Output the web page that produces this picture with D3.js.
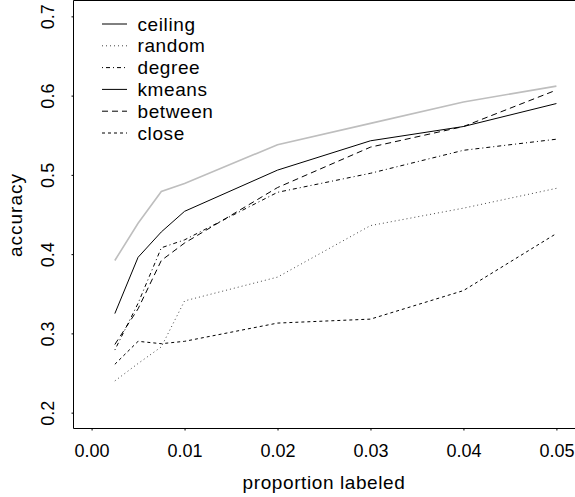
<!DOCTYPE html>
<html><head><meta charset="utf-8">
<script src="https://cdn.jsdelivr.net/npm/d3@7"></script>
<style>html,body{margin:0;padding:0;background:#fff;}svg{display:block;}</style>
</head><body>
<svg id="c" width="575" height="497"></svg>
<script>
const proportion = [0.0025, 0.005, 0.0075, 0.01, 0.02, 0.03, 0.04, 0.05];
const ceiling = [0.392, 0.439, 0.479, 0.489, 0.538, 0.565, 0.592, 0.612];
const random  = [0.240, 0.262, 0.283, 0.341, 0.371, 0.436, 0.458, 0.483];
const degree  = [0.279, 0.338, 0.408, 0.418, 0.478, 0.502, 0.531, 0.545];
const kmeans  = [0.325, 0.396, 0.428, 0.454, 0.506, 0.543, 0.561, 0.590];
const between = [0.286, 0.331, 0.392, 0.414, 0.484, 0.535, 0.561, 0.607];
const closeness = [0.261, 0.290, 0.287, 0.290, 0.313, 0.318, 0.354, 0.426];
const seriesNames = ["ceiling", "random", "degree", "kmeans", "between", "close"];
const xTicks = [0.00, 0.01, 0.02, 0.03, 0.04, 0.05];
const yTicks = [0.2, 0.3, 0.4, 0.5, 0.6, 0.7];

const seriesData = {ceiling, random, degree, kmeans, between, close: closeness};
const styles = {
  ceiling: {stroke: "#bebebe", dash: null, legendStroke: "#000"},
  random:  {stroke: "#444", dash: "1,3", legendStroke: "#444"},
  degree:  {stroke: "#000", dash: "1,3,4,3", legendStroke: "#000"},
  kmeans:  {stroke: "#000", dash: null, legendStroke: "#000"},
  between: {stroke: "#000", dash: "6,4", legendStroke: "#000"},
  close:   {stroke: "#000", dash: "3,3", legendStroke: "#000"}
};

const svg = d3.select("#c");
const pLeft = 73, pRight = 575, pTop = 0.5, pBottom = 428.5;
const x = d3.scaleLinear().domain([-0.002, 0.052]).range([pLeft, pRight]);
const y = d3.scaleLinear().domain([0.18, 0.72]).range([pBottom, pTop]);
const font = "'Liberation Sans', Arial, Helvetica, sans-serif";
const numSize = 18, wordSize = 19, wordSpacing = 0.6;

// box (left, top, bottom)
svg.append("path")
  .attr("d", `M${pRight+1},${pTop}H${pLeft+0.5}V${pBottom}H${pRight+1}`)
  .attr("fill", "none").attr("stroke", "#000").attr("stroke-width", 1);

// axes
const xAxis = d3.axisBottom(x).tickValues(xTicks).tickFormat(d3.format(".2f")).tickSize(2).tickPadding(14);
const gx = svg.append("g").attr("transform", `translate(0,${pBottom})`).call(xAxis);
gx.select(".domain").remove();
gx.selectAll("text").attr("font-family", font).attr("font-size", numSize).attr("fill", "#000");

const yAxis = d3.axisLeft(y).tickValues(yTicks).tickFormat(d3.format(".1f")).tickSize(2);
const gy = svg.append("g").attr("transform", `translate(${pLeft+0.5},0)`).call(yAxis);
gy.select(".domain").remove();
gy.selectAll(".tick").each(function(d) {
  const t = d3.select(this);
  t.select("text")
    .attr("font-family", font).attr("font-size", numSize).attr("fill", "#000")
    .attr("text-anchor", "middle").attr("dy", null).attr("x", null).attr("y", null)
    .attr("transform", `translate(${47 - (pLeft+0.5) + 6.5},0) rotate(-90)`);
});

// axis titles
svg.append("text").attr("x", 324).attr("y", 489).attr("text-anchor", "middle")
  .attr("font-family", font).attr("font-size", wordSize).attr("letter-spacing", wordSpacing)
  .text("proportion labeled");
svg.append("text").attr("transform", "translate(22,215) rotate(-90)").attr("text-anchor", "middle")
  .attr("font-family", font).attr("font-size", wordSize).attr("letter-spacing", 1.0)
  .text("accuracy");

// lines
const line = d3.line().x((d, i) => x(proportion[i])).y(d => y(d));
seriesNames.forEach(name => {
  const s = styles[name];
  svg.append("path").datum(seriesData[name])
    .attr("d", line).attr("fill", "none")
    .attr("stroke", s.stroke).attr("stroke-width", name === "ceiling" ? 1.6 : 1)
    .attr("stroke-dasharray", s.dash);
});

// legend
const lg = svg.append("g");
seriesNames.forEach((name, i) => {
  const yy = 24 + i * 21.8;
  const s = styles[name];
  lg.append("line").attr("x1", 102).attr("x2", 127).attr("y1", yy).attr("y2", yy)
    .attr("stroke", s.legendStroke).attr("stroke-width", 1).attr("stroke-dasharray", s.dash);
  lg.append("text").attr("x", 137.5).attr("y", yy + 6.5).attr("font-family", font)
    .attr("font-size", wordSize).attr("letter-spacing", wordSpacing).text(name);
});
</script>
</body></html>
